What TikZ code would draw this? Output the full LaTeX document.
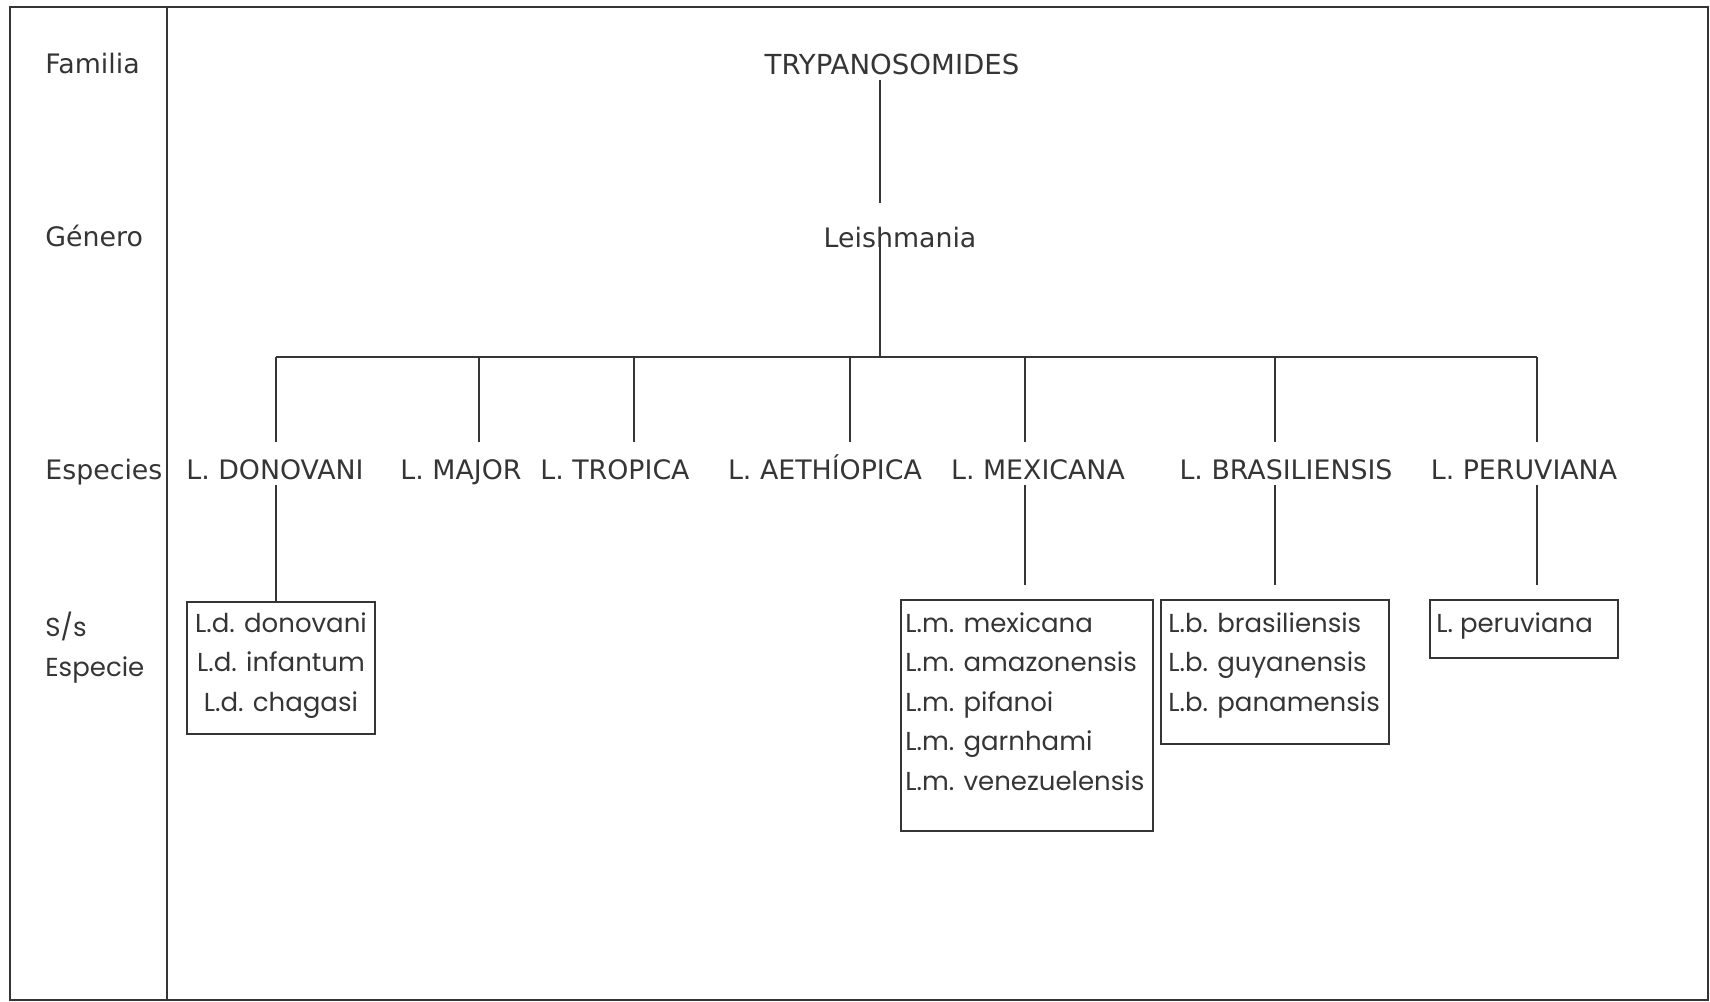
\documentclass[tikz,border=0pt]{standalone}
\usepackage{fontspec}
\setmainfont{DejaVu Sans}
\newfontfamily\comicfont{Poppins}
\usepackage{xcolor}
\usepackage{tikz}
\usetikzlibrary{positioning}
\definecolor{ink}{HTML}{353535}

\begin{document}
\begin{tikzpicture}[x=0.5pt, y=-0.5pt,
    rowlabel/.style={anchor=base west, inner sep=0pt, text=ink,
                     font=\fontsize{13.4}{16}\selectfont},
    taxon/.style={anchor=base, inner sep=3pt, text height=10pt, text depth=0pt,
                  text=ink, font=\fontsize{13.4}{16}\selectfont},
    subbox/.style={draw=ink, line width=1pt, anchor=north west, inner sep=0pt},
    subtext/.style={inner sep=0pt, text=ink,
                    font=\comicfont\fontsize{13}{19.75}\selectfont},
    link/.style={draw=ink, line width=0.9pt},
    drop/.style={link, shorten >=5.5pt},
]
\useasboundingbox (0,0) rectangle (1710,1002);

% frame and rank column
\draw[ink, line width=1.3pt] (10,7) rectangle (1708,1000);
\draw[ink, line width=1pt] (167,7) -- (167,1000);

\node[rowlabel] (lfam) at (45,73) {Familia};
\node[rowlabel] (lgen) at (45,246) {Género};
\node[rowlabel] (lesp) at (45,479) {Especies};
\node[subtext, anchor=north west, align=left] (lsub) at (45,612) {S/s\\Especie};

% familia and genero
\node[taxon, font=\fontsize{13.8}{16}\selectfont] (fam) at (892,74) {TRYPANOSOMIDES};
\node[taxon] (gen) at (900,247) {Leishmania};
\coordinate (tk) at (880,357);
\draw[link, shorten >=9pt] (fam.south -| tk) -- (gen.north -| tk);
\draw[link, shorten <=3.5pt] (gen.north -| tk) -- (tk);

% especies
\node[taxon] (don) at (275,479) {L. DONOVANI};
\node[taxon] (maj) at (461,479) {L. MAJOR};
\node[taxon] (tro) at (615,479) {L. TROPICA};
\node[taxon] (aet) at (825,479) {L. AETHÍOPICA};
\node[taxon] (mex) at (1038,479) {L. MEXICANA};
\node[taxon] (bra) at (1286,479) {L. BRASILIENSIS};
\node[taxon] (per) at (1524,479) {L. PERUVIANA};

\coordinate (b1) at (276,357);
\coordinate (b2) at (479,357);
\coordinate (b3) at (634,357);
\coordinate (b4) at (850,357);
\coordinate (b5) at (1025,357);
\coordinate (b6) at (1275,357);
\coordinate (b7) at (1537,357);
\draw[link] (b1) -- (b7);
\draw[drop] (b1) -- (b1 |- don.north);
\draw[drop] (b2) -- (b2 |- maj.north);
\draw[drop] (b3) -- (b3 |- tro.north);
\draw[drop] (b4) -- (b4 |- aet.north);
\draw[drop] (b5) -- (b5 |- mex.north);
\draw[drop] (b6) -- (b6 |- bra.north);
\draw[drop] (b7) -- (b7 |- per.north);

% subespecies
\node[subbox, minimum width=94pt, minimum height=66pt] (sdon) at (186,601) {};
\node[subbox, minimum width=126pt, minimum height=115.5pt] (smex) at (900,599) {};
\node[subbox, minimum width=114pt, minimum height=72pt] (sbra) at (1160,599) {};
\node[subbox, minimum width=94pt, minimum height=29pt] (sper) at (1429,599) {};

\node[subtext, align=center, below=5.5pt of sdon.north] (tdon)
    {L.d. donovani\\L.d. infantum\\L.d. chagasi};
\node[subtext, align=left, below right=6.5pt and 2.5pt of smex.north west] (tmex)
    {L.m. mexicana\\L.m. amazonensis\\L.m. pifanoi\\L.m. garnhami\\L.m. venezuelensis};
\node[subtext, align=left, below right=6.5pt and 4pt of sbra.north west] (tbra)
    {L.b. brasiliensis\\L.b. guyanensis\\L.b. panamensis};
\node[subtext, align=left, below right=6.5pt and 3.5pt of sper.north west] (tper)
    {L. peruviana};

\draw[link] (b1 |- don.south) -- (b1 |- sdon.north);
\draw[link, shorten >=7pt] (b5 |- mex.south) -- (b5 |- smex.north);
\draw[link, shorten >=7pt] (b6 |- bra.south) -- (b6 |- sbra.north);
\draw[link, shorten >=7pt] (b7 |- per.south) -- (b7 |- sper.north);
\end{tikzpicture}
\end{document}
